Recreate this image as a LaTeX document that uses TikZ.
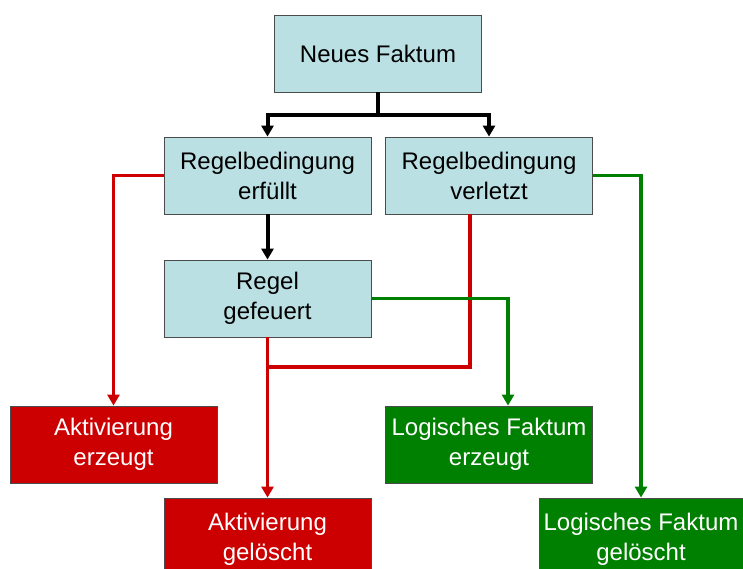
\documentclass[tikz,border=0pt]{standalone}
\usepackage{fontspec}
\setmainfont{Liberation Sans}
\usepackage{xcolor}
\usepackage{tikz}
\usetikzlibrary{positioning, arrows.meta}

\definecolor{boxblue}{HTML}{BBE0E3}
\definecolor{boxred}{HTML}{CC0000}
\definecolor{boxgreen}{HTML}{008000}

\begin{document}
\begin{tikzpicture}[x=1pt, y=-1pt, >={Triangle[width=12pt,length=11pt]},
    box/.style={draw=black!70, line width=0.8pt, align=center, inner sep=0pt,
      minimum width=207pt, minimum height=77pt, font=\fontsize{24}{30}\selectfont},
    blue/.style={box, fill=boxblue},
    redbox/.style={box, fill=boxred, text=white},
    greenbox/.style={box, fill=boxgreen, text=white},
    blk/.style={line width=4pt, draw=black},
    redline/.style={line width=3.5pt, draw=boxred},
    greenline/.style={line width=3.5pt, draw=boxgreen}]
    \useasboundingbox (0,0) rectangle (743,569);
    \clip (0,0) rectangle (743,569);
    \node[blue] (neu) at (378,53.5) {Neues Faktum};
    \node[blue] (erf) at (267.5,175.5) {Regelbedingung\\erfüllt};
    \node[blue] (verl) at (489,175.5) {Regelbedingung\\verletzt};
    \node[blue] (gef) at (267.5,298.5) {Regel\\gefeuert};
    \node[redbox] (akterz) at (113.5,444.5) {Aktivierung\\erzeugt};
    \node[redbox, minimum height=82pt] (aktgel) at (267.5,539) {Aktivierung\\gelöscht};
    \node[greenbox] (logerz) at (489,444.5) {Logisches Faktum\\erzeugt};
    \node[greenbox, minimum width=204pt, minimum height=82pt] (loggel) at (641,539) {Logisches Faktum\\gelöscht};
    \coordinate (split) at (378,115);
    \coordinate (join) at (267.5,367);
    % black
    \draw[blk] (neu) -- (split);
    \draw[blk, ->] (split) -| (erf);
    \draw[blk, ->] (split) -| (verl);
    \draw[blk, ->] (erf) -- (gef);
    % red
    \draw[redline, ->] (erf.west) -| (akterz.north);
    \draw[redline, ->] (gef) -- (aktgel);
    \draw[redline] ([xshift=-19pt]verl.south) |- (join);
    % green
    \draw[greenline, ->] (gef.east) -| ([xshift=19pt]logerz.north);
    \draw[greenline, ->] (verl.east) -| (loggel.north);
  \end{tikzpicture}
\end{document}
